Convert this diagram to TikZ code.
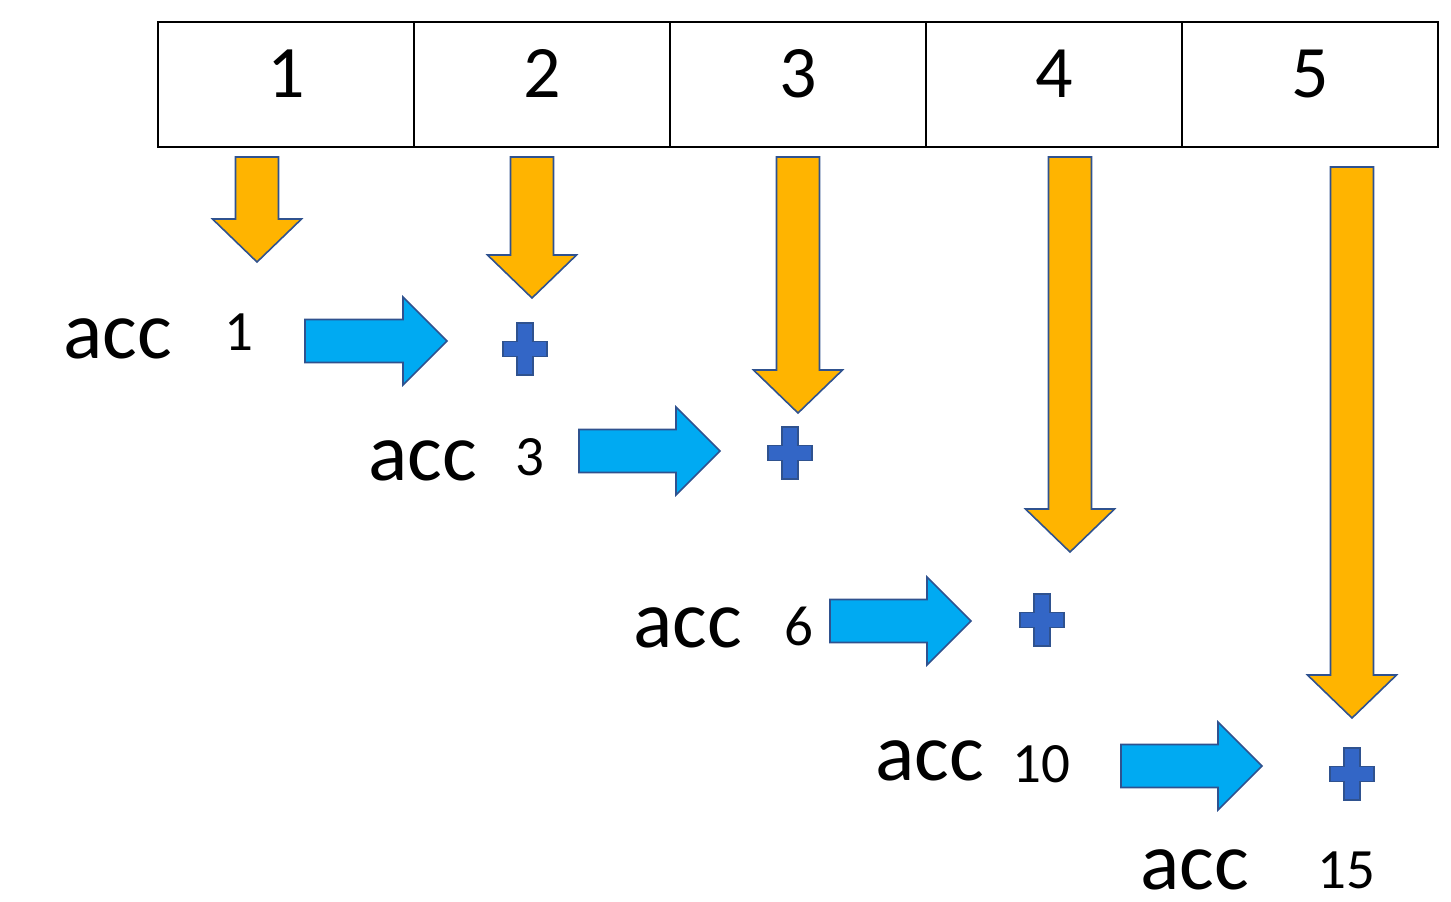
\documentclass[tikz,border=0pt]{standalone}
\usepackage{fontspec}
\setmainfont{Carlito}
\definecolor{gold}{HTML}{FFB400}
\definecolor{sky}{HTML}{00AAF2}
\definecolor{edge}{HTML}{2F528F}
\definecolor{plusblue}{HTML}{3366C6}
\tikzset{
    cell/.style={draw, line width=1pt, inner sep=0pt, minimum width=128pt, minimum height=62.5pt},
    digit/.style={anchor=base, inner sep=0pt, font=\fontsize{37}{44}\selectfont},
    acc/.style={anchor=base, inner sep=0pt, font=\fontsize{41}{49}\selectfont},
    val/.style={anchor=base, inner sep=0pt, font=\fontsize{28.5}{34}\selectfont},
    downarrow/.style={fill=gold, draw=edge, line width=0.8pt},
    rightarrow/.style={fill=sky, draw=edge, line width=0.8pt},
    plussign/.style={fill=plusblue, draw=edge, line width=0.8pt}
}
\begin{document}
\begin{tikzpicture}[x=0.5pt, y=-0.5pt]
    \useasboundingbox (0,0) rectangle (1451,901);

    % the list
    \foreach \i in {1,...,5} {
        \node[cell] (c\i) at ({30+256*\i},84.5) {};
        \node[digit] (d\i) at ({30+256*\i},97) {\i};
    }

    % accumulator texts
    \node[acc] (acc1) at (118,358) {acc};
    \node[val] (v1) at (239,350) {1};
    \node[acc] (acc2) at (423,480) {acc};
    \node[val] (v2) at (530,475) {3};
    \node[acc] (acc3) at (688,647) {acc};
    \node[val] (v3) at (799,645) {6};
    \node[acc] (acc4) at (930,780) {acc};
    \node[val] (v4) at (1041,782) {10};
    \node[acc] (acc5) at (1195,889) {acc};
    \node[val] (v5) at (1346,888) {15};

    %%%%%%%%%%%%%%%%%%%%%%%%%%%%%%%%%%%%%%%%

    % arrows down from the list
    \foreach \x/\t/\e in {257/157/262, 532/157/298, 798/157/413, 1070/157/552, 1352/167/718} {
        \draw[downarrow] (\x-21.5,\t) -- (\x+21.5,\t) -- (\x+21.5,\e-43) -- (\x+44.5,\e-43)
            -- (\x,\e) -- (\x-44.5,\e-43) -- (\x-21.5,\e-43) -- cycle;
    }

    % arrows from acc to the plus
    \foreach \s/\y/\e in {305/341/447, 579/451/720, 830/621/971, 1121/766/1262} {
        \draw[rightarrow] (\s,\y-21.5) -- (\e-44,\y-21.5) -- (\e-44,\y-44) -- (\e,\y)
            -- (\e-44,\y+44) -- (\e-44,\y+21.5) -- (\s,\y+21.5) -- cycle;
    }

    % plus signs
    \foreach \x/\y in {525/349, 790/453, 1042/620, 1352/774} {
        \draw[plussign] (\x-8,\y-26) -- (\x+8,\y-26) -- (\x+8,\y-7.5) -- (\x+22,\y-7.5)
            -- (\x+22,\y+7.5) -- (\x+8,\y+7.5) -- (\x+8,\y+26) -- (\x-8,\y+26)
            -- (\x-8,\y+7.5) -- (\x-22,\y+7.5) -- (\x-22,\y-7.5) -- (\x-8,\y-7.5) -- cycle;
    }

\end{tikzpicture}
\end{document}
